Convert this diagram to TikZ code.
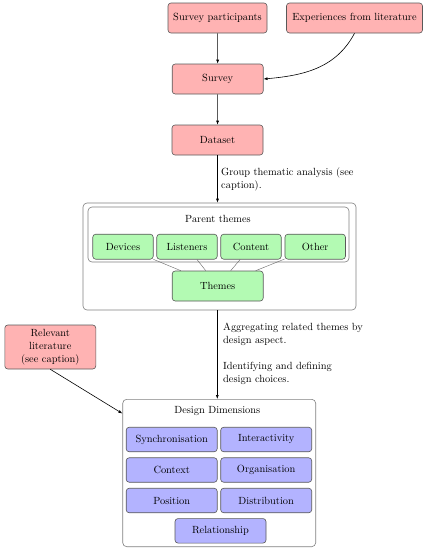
\documentclass[tikz,border=0pt]{standalone}
\usepackage{mathpazo}
\usetikzlibrary{arrows.meta}
\definecolor{pinkfill}{RGB}{255,179,179}
\definecolor{greenfill}{RGB}{179,250,179}
\definecolor{bluefill}{RGB}{179,179,255}
\begin{document}
\begin{tikzpicture}[x=1pt,y=-1pt,
  every node/.style={font=\fontsize{10.4}{13}\selectfont, inner sep=2pt},
  redbox/.style={draw=black!65, fill=pinkfill, rounded corners=3pt, line width=0.6pt, minimum height=30pt, align=center},
  greenbox/.style={draw=black!65, fill=greenfill, rounded corners=3pt, line width=0.6pt, minimum width=60.5pt, minimum height=25pt},
  bluebox/.style={draw=black!65, fill=bluefill, rounded corners=3pt, line width=0.6pt, minimum width=91pt, minimum height=24.5pt},
  container/.style={draw=black!50, fill=white, rounded corners=4pt, line width=0.6pt},
  arr/.style={-{Latex[length=4pt,width=3pt]}, line width=0.6pt},
  thinline/.style={draw=black!60, line width=0.4pt},
  lbl/.style={anchor=west, align=left, inner sep=0pt}
]
\useasboundingbox (0,0) rectangle (427,550);

% top red boxes
\node[redbox, minimum width=99pt] (sp) at (217.5,18) {Survey participants};
\node[redbox, minimum width=136pt] (exp) at (354.5,18) {Experiences from literature};
\node[redbox, minimum width=91pt] (survey) at (217.7,79) {Survey};
\node[redbox, minimum width=91pt] (dataset) at (217.5,140) {Dataset};

% themes container
\node[container, minimum width=273pt, minimum height=107pt] (outer) at (219.5,256.5) {};
\node[container, minimum width=261pt, minimum height=55pt] (inner) at (218.5,234.5) {};
\node (ptitle) at (218,219.3) {Parent themes};
\node[greenbox] (dev) at (123,246.7) {Devices};
\node[greenbox] (lis) at (187,246.7) {Listeners};
\node[greenbox] (con) at (251,246.7) {Content};
\node[greenbox] (oth) at (315.2,246.7) {Other};
\node[greenbox, minimum width=91pt, minimum height=30pt] (themes) at (217.7,286) {Themes};
\draw[thinline] (dev) -- (themes);
\draw[thinline] (lis) -- (themes);
\draw[thinline] (con) -- (themes);
\draw[thinline] (oth) -- (themes);

% relevant literature
\node[redbox, minimum width=91pt, minimum height=44pt, inner sep=1pt] (rl) at (50.3,347) {Relevant\\literature\\(see caption)};

% design dimensions container
\node[container, minimum width=193pt, minimum height=147.4pt] (dd) at (219.2,473) {};
\node (ddtitle) at (217.3,410.7) {Design Dimensions};
\node[bluebox] (syn) at (171.7,439.5) {Synchronisation};
\node[bluebox] (int) at (266.2,439.5) {Interactivity};
\node[bluebox] (ctx) at (171.7,470) {Context};
\node[bluebox] (org) at (266.2,470) {Organisation};
\node[bluebox] (pos) at (171.7,500.5) {Position};
\node[bluebox] (dis) at (266.2,500.5) {Distribution};
\node[bluebox] (rel) at (220.5,530.8) {Relationship};

% arrows
\draw[arr] (sp) -- (survey);
\draw[arr] (exp.south) to[out=-118, in=5] (survey.east);
\draw[arr] (survey) -- (dataset);
\draw[arr] (dataset.south) -- (dataset.south |- outer.north);
\draw[arr] (outer.south -| ddtitle.north) -- (ddtitle.north |- dd.north);
\draw[arr] (rl.south) -- ([yshift=-14.5pt]dd.north west);

% labels
\node[lbl] (l1) at (221,179.5) {Group thematic analysis (see\\caption).};
\node[lbl] (l2) at (223,354) {Aggregating related themes by\\design aspect.\\[13pt]Identifying and defining\\design choices.};
\end{tikzpicture}
\end{document}
